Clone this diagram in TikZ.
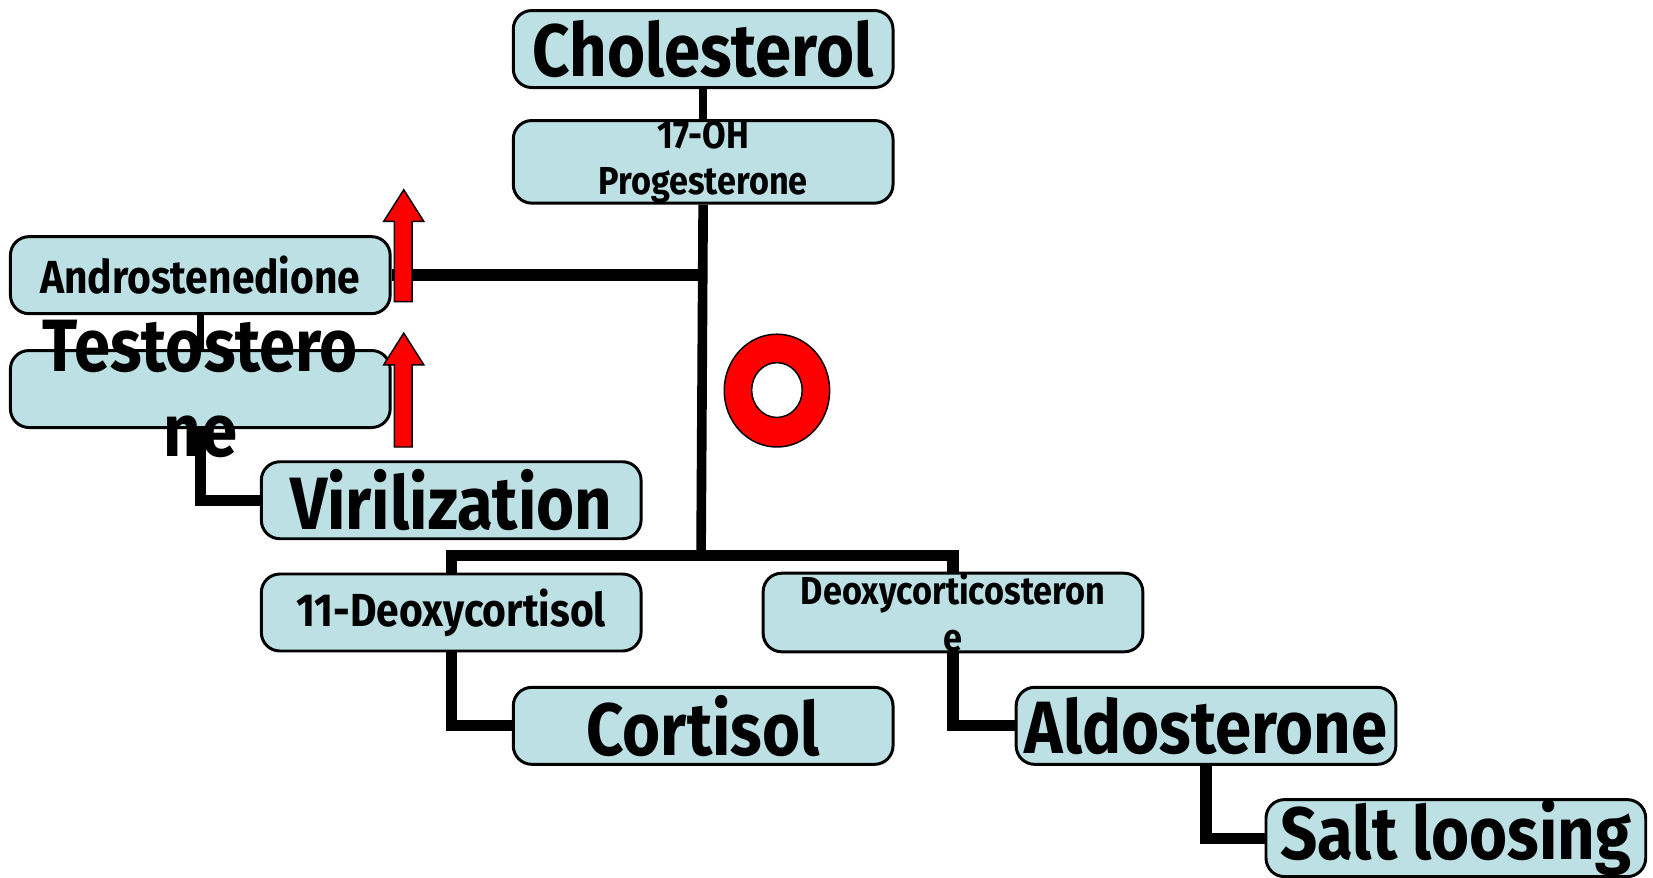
\documentclass[tikz,border=0pt]{standalone}
\usepackage{fontspec}
\setmainfont{Fira Sans}[FakeStretch=0.88]
\usetikzlibrary{backgrounds}
\definecolor{boxblue}{RGB}{188,224,227}

\begin{document}
\begin{tikzpicture}[x=0.01cm,y=-0.01cm,
  box/.style={draw,line width=0.8pt,rounded corners=5pt,fill=boxblue,
    minimum width=3.6cm,minimum height=0.73cm,inner sep=0pt,align=center},
  big/.style={font=\fontsize{20}{23}\selectfont\bfseries},
  mid/.style={font=\fontsize{12.5}{15}\selectfont\bfseries},
  small/.style={font=\fontsize{10.5}{12.5}\selectfont\bfseries},
  link/.style={line width=3pt},
  uparrow/.style={fill=red,draw=black,line width=0.4pt}]
  \useasboundingbox (0,0) rectangle (1568,832);

  \node[box,big] (chol) at (667,46.5) {Cholesterol};
  \node[box,small] (prog) at (667,153.5) {17-OH\\Progesterone};
  \node[box,mid] (andro) at (190,261) {Androstenedione};
  \node[box,label={[big,align=center]center:Testostero\\ne}] (testo) at (190,369) {};
  \node[box,big] (viril) at (428,474.5) {Virilization};
  \node[box,mid] (deox) at (428,581) {11-Deoxycortisol};
  \node[box,small] (doc) at (904,581) {Deoxycorticosteron\\e};
  \node[box,big] (cort) at (667,688.5) {Cortisol};
  \node[box,big] (aldo) at (1144,688.5) {Aldosterone};
  \node[box,big] (salt) at (1381,795) {Salt loosing};
  \coordinate (split) at (665,527);

  \begin{scope}[on background layer]
    \draw[link,line width=2pt] (chol) -- (prog);
    \draw[link,line width=2.6pt] (prog.south) -- (split);
    \draw[link] (deox.north) |- (split) -| (doc.north);
    \draw[link,line width=3.4pt] (andro.east) -- (andro.east -| prog.south);
    \draw[link,line width=1.8pt] (andro) -- (testo);
    \draw[link] (testo.south) |- (viril.west);
    \draw[link] (deox.south) |- (cort.west);
    \draw[link] (doc.south) |- (aldo.west);
    \draw[link] (aldo.south) |- (salt.west);
  \end{scope}

  % red arrows and ring
  \foreach \tip/\base in {180/286,316/424}
    \draw[uparrow] (374,\base) -- (374,\tip+30) -- (364,\tip+30) -- (383,\tip)
      -- (402,\tip+30) -- (391,\tip+30) -- (391,\base) -- cycle;
  \draw[fill=red,even odd rule,line width=0.4pt] (737,370.5) ellipse [x radius=50,y radius=53.5]
    (737,370) ellipse [x radius=24,y radius=26];
\end{tikzpicture}
\end{document}
